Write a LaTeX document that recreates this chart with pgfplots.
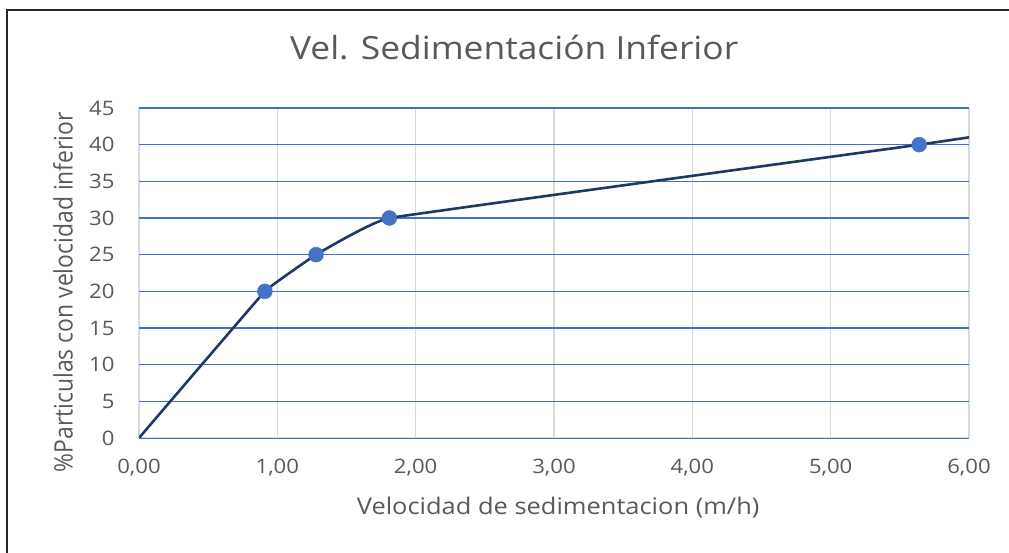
\documentclass[border=0pt]{standalone}
\usepackage{fontspec}
\setmainfont[FakeStretch=1.11]{Open Sans}
\newfontfamily\plainfont{Open Sans}
\usepackage{graphicx}
\usepackage{pgfplots}
\pgfplotsset{compat=1.18}
\definecolor{txtgray}{HTML}{595959}
\definecolor{gridblue}{HTML}{4472C4}
\definecolor{gridgray}{HTML}{D9D9D9}
\definecolor{linenavy}{HTML}{1F3864}
\definecolor{markblue}{HTML}{4472C4}
\begin{document}
\begin{tikzpicture}[x=1bp,y=1bp]
\path[use as bounding box] (0,0) rectangle (1009,553);
\draw[line width=2bp, black!85] (6.5,0) -- (6.5,543) -- (1009,543);
\begin{axis}[
  at={(139bp,115bp)}, anchor=south west,
  scale only axis, width=830bp, height=330bp,
  xmin=0, xmax=6, ymin=0, ymax=45,
  xtick={0,1,2,3,4,5,6}, ytick={0,5,...,45},
  axis line style={draw=none},
  tick style={draw=none},
  grid=major,
  x grid style={gridgray, line width=1.1bp},
  y grid style={gridblue, line width=1.1bp},
  ticklabel style={font=\fontsize{20}{24}\selectfont, text=txtgray},
  /pgf/number format/assume math mode=true,
  xticklabel style={/pgf/number format/fixed, /pgf/number format/fixed zerofill, /pgf/number format/precision=2, /pgf/number format/use comma, anchor=north, yshift=-18bp},
  yticklabel style={/pgf/number format/fixed, /pgf/number format/precision=0, anchor=east, xshift=-21bp},
  title={Vel. Sedimentación Inferior},
  title style={at={(axis description cs:0.452,1.130)}, anchor=base, font=\fontsize{32}{38}\selectfont, text=txtgray},
  xlabel={Velocidad de sedimentacion (m/h)},
  xlabel style={at={(axis description cs:0.505,-0.2333)}, anchor=base, font=\fontsize{23}{28}\selectfont, text=txtgray},
  ylabel={\scalebox{1}[1.11]{\plainfont\%Particulas con velocidad inferior}},
  ylabel style={at={(axis description cs:-0.0916,0.442)}, anchor=center, font=\fontsize{23}{28}\selectfont, text=txtgray},
  clip=true,
]
\draw[gridgray, line width=1.5bp] (axis cs:0,0) -- (axis cs:6,0);
\addplot[linenavy, line width=2.6bp, smooth, tension=0.1, no markers] coordinates {
  (0,0) (0.91,20) (1.28,25) (1.81,30) (5.64,40) (6.5,42.4)
};
\addplot[only marks, mark=*, mark size=7.5bp, mark options={fill=markblue, draw=markblue}] coordinates {
  (0.91,20) (1.28,25) (1.81,30) (5.64,40)
};
\end{axis}
\end{tikzpicture}
\end{document}
